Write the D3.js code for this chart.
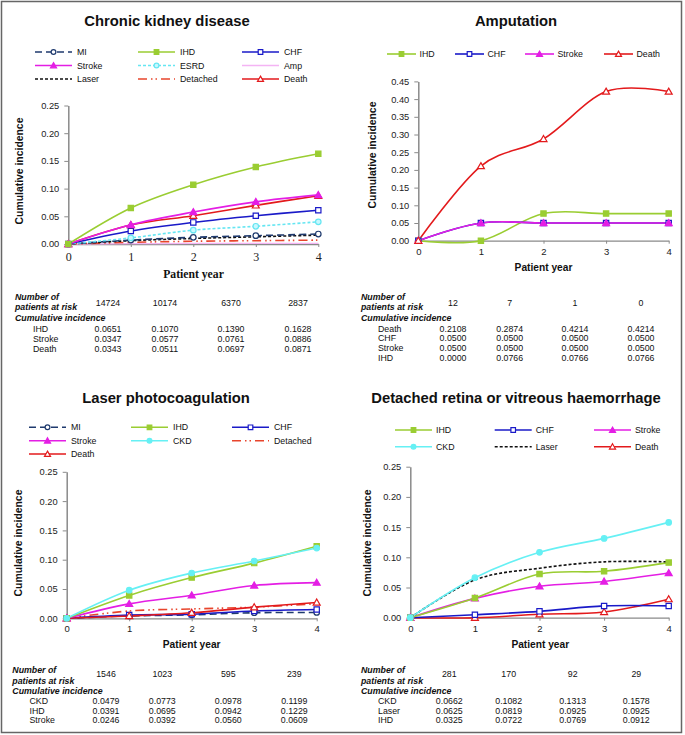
<!DOCTYPE html>
<html><head><meta charset="utf-8">
<script src="https://cdn.jsdelivr.net/npm/d3@7"></script>
<style>body{margin:0;background:#fff}svg{display:block}</style>
</head><body>
<svg id="c" width="685" height="735"></svg>
<script>
// ---------- DATA ----------
const years = [0, 1, 2, 3, 4];
const xTickLabels = ["0", "1", "2", "3", "4"];
const yTicks25 = [0, 0.05, 0.10, 0.15, 0.20, 0.25];
const yTicks45 = [0, 0.05, 0.10, 0.15, 0.20, 0.25, 0.30, 0.35, 0.40, 0.45];

// Panel 1: Chronic kidney disease
const ckdMI       = [0, 0.007, 0.012, 0.015, 0.018];
const ckdIHD      = [0, 0.0651, 0.1070, 0.1390, 0.1628];
const ckdCHF      = [0, 0.0235, 0.039, 0.051, 0.061];
const ckdStroke   = [0, 0.0347, 0.0577, 0.0761, 0.0886];
const ckdESRD     = [0, 0.011, 0.025, 0.032, 0.040];
const ckdAmp      = [0, 0.0005, 0.001, 0.001, 0.001];
const ckdLaser    = [0, 0.006, 0.010, 0.013, 0.016];
const ckdDetached = [0, 0.003, 0.005, 0.006, 0.007];
const ckdDeath    = [0, 0.0343, 0.0511, 0.0697, 0.0871];
const ckdAtRisk   = ["14724", "10174", "6370", "2837"];

// Panel 2: Amputation
const ampIHD    = [0, 0.0000, 0.0766, 0.0766, 0.0766];
const ampCHF    = [0, 0.0500, 0.0500, 0.0500, 0.0500];
const ampStroke = [0, 0.0500, 0.0500, 0.0500, 0.0500];
const ampDeath  = [0, 0.2108, 0.2874, 0.4214, 0.4214];
const ampAtRisk = ["12", "7", "1", "0"];

// Panel 3: Laser photocoagulation
const lasMI       = [0, 0.004, 0.006, 0.0095, 0.010];
const lasIHD      = [0, 0.0391, 0.0695, 0.0942, 0.1229];
const lasCHF      = [0, 0.0055, 0.007, 0.0125, 0.015];
const lasStroke   = [0, 0.0246, 0.0392, 0.0560, 0.0609];
const lasCKD      = [0, 0.0479, 0.0773, 0.0978, 0.1199];
const lasDetached = [0, 0.0125, 0.016, 0.019, 0.025];
const lasDeath    = [0, 0.004, 0.0095, 0.019, 0.027];
const lasAtRisk   = ["1546", "1023", "595", "239"];

// Panel 4: Detached retina or vitreous haemorrhage
const detIHD    = [0, 0.0325, 0.0722, 0.0769, 0.0912];
const detCHF    = [0, 0.005, 0.0105, 0.0195, 0.0195];
const detStroke = [0, 0.032, 0.052, 0.060, 0.074];
const detCKD    = [0, 0.0662, 0.1082, 0.1313, 0.1578];
const detLaser  = [0, 0.0625, 0.0819, 0.0925, 0.0925];
const detDeath  = [0, 0.000, 0.0057, 0.0095, 0.0307];
const detAtRisk = ["281", "170", "92", "29"];

// ---------- STYLES ----------
const styles = {
  MI:       {color: "#1F3A6E", dash: "7,4", marker: "circle", fill: "#ffffff"},
  IHD:      {color: "#9ACD32", dash: null, marker: "square", fill: "#9ACD32"},
  CHF:      {color: "#1A1AC8", dash: null, marker: "square", fill: "#ffffff"},
  Stroke:   {color: "#E41EE4", dash: null, marker: "triangle", fill: "#E41EE4"},
  ESRD:     {color: "#66E6F2", dash: "3,2", marker: "circle", fill: "#C8F8FF"},
  Amp:      {color: "#F4B4F4", dash: null, marker: null},
  Laser:    {color: "#111111", dash: "3,2", marker: null},
  Detached: {color: "#E8452C", dash: "9,4,1.5,3,1.5,4", marker: null},
  Death:    {color: "#E31A1C", dash: null, marker: "triangle", fill: "#ffffff"},
  CKD:      {color: "#66F0F4", dash: null, marker: "circle", fill: "#66F0F4"}
};

const SANS = "Arial, 'Liberation Sans', sans-serif";
const SERIF = "'Times New Roman', 'Liberation Serif', serif";
const fmt4 = d3.format(".4f");

const panels = [
  {
    title: "Chronic kidney disease", titleX: 167, titleY: 21,
    x: [68.3, 318.3], y: [244, 105.5], ymax: 0.25, yTicks: yTicks25,
    xTickFont: SERIF, xTickSize: 12, xTickY: 257,
    xTitleFont: SERIF, xTitleSize: 11.7, xTitleX: 193.5, xTitleY: 274,
    yTitleX: 19, yTitleY: 171,
    series: [["Amp", ckdAmp], ["Detached", ckdDetached], ["Laser", ckdLaser], ["MI", ckdMI],
             ["ESRD", ckdESRD], ["CHF", ckdCHF], ["Death", ckdDeath], ["Stroke", ckdStroke], ["IHD", ckdIHD]],
    legend: {items: ["MI","IHD","CHF","Stroke","ESRD","Amp","Laser","Detached","Death"],
             cols: [35, 138, 242], rows: [52, 65.5, 79], len: 37, gap: 5, ncol: 3},
    table: {headerX: 15, labelX: 33, cols: [108, 165, 231, 298],
            n1: 296.7, n2: 306.7, nv: 303.3, cum: 318, row0: 328.7, step: 10,
            atRisk: ckdAtRisk, rows: [["IHD", ckdIHD], ["Stroke", ckdStroke], ["Death", ckdDeath]]}
  },
  {
    title: "Amputation", titleX: 516, titleY: 21,
    x: [418.3, 668.7], y: [240.7, 81.4], ymax: 0.45, yTicks: yTicks45,
    xTickFont: SANS, xTickSize: 9.5, xTickY: 251,
    xTitleFont: SANS, xTitleSize: 10.2, xTitleX: 543.5, xTitleY: 267,
    yTitleX: 372, yTitleY: 155,
    series: [["IHD", ampIHD], ["CHF", ampCHF], ["Stroke", ampStroke], ["Death", ampDeath]],
    legend: {items: ["IHD","CHF","Stroke","Death"],
             cols: [387, 455, 525, 604], rows: [54], len: 29, gap: 3.5, ncol: 4},
    table: {headerX: 361, labelX: 378, cols: [453, 509.7, 575, 641],
            n1: 296.7, n2: 306.7, nv: 303.3, cum: 318, row0: 328.7, step: 9.7,
            atRisk: ampAtRisk, rows: [["Death", ampDeath], ["CHF", ampCHF], ["Stroke", ampStroke], ["IHD", ampIHD]]}
  },
  {
    title: "Laser photocoagulation", titleX: 166, titleY: 397.5,
    x: [66.7, 316.7], y: [618.3, 471.8], ymax: 0.25, yTicks: yTicks25,
    xTickFont: SANS, xTickSize: 9.5, xTickY: 628.5,
    xTitleFont: SANS, xTitleSize: 10.2, xTitleX: 191.7, xTitleY: 644,
    yTitleX: 18, yTitleY: 543,
    series: [["Detached", lasDetached], ["MI", lasMI], ["CHF", lasCHF], ["Death", lasDeath],
             ["Stroke", lasStroke], ["IHD", lasIHD], ["CKD", lasCKD]],
    legend: {items: ["MI","IHD","CHF","Stroke","CKD","Detached","Death"],
             cols: [29, 131, 232], rows: [427.3, 440.7, 454], len: 37, gap: 5, ncol: 3},
    table: {headerX: 12.3, labelX: 29.5, cols: [106, 162.3, 228.3, 294.3],
            n1: 670, n2: 680.7, nv: 674.3, cum: 690.7, row0: 700.7, step: 9.8,
            atRisk: lasAtRisk, rows: [["CKD", lasCKD], ["IHD", lasIHD], ["Stroke", lasStroke]]}
  },
  {
    title: "Detached retina or vitreous haemorrhage", titleX: 516, titleY: 397.5,
    x: [410.3, 668.7], y: [617.7, 466.7], ymax: 0.25, yTicks: yTicks25,
    xTickFont: SANS, xTickSize: 9.5, xTickY: 628.5,
    xTitleFont: SANS, xTitleSize: 10.2, xTitleX: 540.3, xTitleY: 644,
    yTitleX: 367, yTitleY: 543,
    series: [["Death", detDeath], ["CHF", detCHF], ["Stroke", detStroke], ["IHD", detIHD],
             ["Laser", detLaser], ["CKD", detCKD]],
    legend: {items: ["IHD","CHF","Stroke","CKD","Laser","Death"],
             cols: [395, 494.7, 594], rows: [430, 446.7], len: 37, gap: 4, ncol: 3},
    table: {headerX: 361, labelX: 378, cols: [449.3, 508.7, 572.7, 636.3],
            n1: 670, n2: 680.7, nv: 674.3, cum: 690.7, row0: 700.7, step: 9.8,
            atRisk: detAtRisk, rows: [["CKD", detCKD], ["Laser", detLaser], ["IHD", detIHD]]}
  }
];

const svg = d3.select("#c");
svg.append("rect").attr("x", 1.5).attr("y", 1.5).attr("width", 680).attr("height", 731)
  .attr("fill", "#fff").attr("stroke", "#666").attr("stroke-width", 1.5);

function drawMarker(g, type, cx, cy, st, scale) {
  if (!type) return;
  const s = scale || 1;
  let sym, size;
  if (type === "square") { sym = d3.symbolSquare; size = 28 * s; }
  else if (type === "triangle") { sym = d3.symbolTriangle; size = 21 * s; }
  else { sym = d3.symbolCircle; size = 24 * s; }
  g.append("path")
    .attr("d", d3.symbol().type(sym).size(size)())
    .attr("transform", `translate(${cx},${cy + (type === "triangle" ? 0.6 : 0)})`)
    .attr("fill", st.fill).attr("stroke", st.color).attr("stroke-width", 1.2);
}

panels.forEach(p => {
  const g = svg.append("g");
  const xs = d3.scaleLinear().domain([0, 4]).range(p.x);
  const ys = d3.scaleLinear().domain([0, p.ymax]).range(p.y);

  // Title
  g.append("text").attr("x", p.titleX).attr("y", p.titleY).attr("dy", "0.35em")
    .attr("text-anchor", "middle").attr("font-family", SANS).attr("font-weight", "bold")
    .attr("font-size", 14.8).attr("fill", "#111").text(p.title);

  // Y axis
  const ya = g.append("g").attr("transform", `translate(${p.x[0]},0)`)
    .call(d3.axisLeft(ys).tickValues(p.yTicks).tickFormat(d3.format(".2f")).tickSize(4).tickSizeOuter(0).tickPadding(5));
  ya.select(".domain").attr("stroke", "#8a8a8a").attr("stroke-width", 1.5);
  ya.selectAll(".tick line").attr("stroke", "#8a8a8a").attr("stroke-width", 1);
  ya.selectAll(".tick text").attr("font-family", SANS).attr("font-size", 9.3).attr("fill", "#222");

  // X axis
  const xa = g.append("g").attr("transform", `translate(0,${p.y[0]})`)
    .call(d3.axisBottom(xs).tickValues(years).tickFormat((d, i) => xTickLabels[i]).tickSize(3).tickSizeOuter(0));
  xa.select(".domain").attr("stroke", "#8a8a8a").attr("stroke-width", 1.3);
  xa.selectAll(".tick line").attr("stroke", "#8a8a8a");
  xa.selectAll(".tick text").attr("y", null).attr("dy", null)
    .attr("transform", `translate(0,${p.xTickY - p.y[0]})`).attr("dominant-baseline", "central")
    .attr("font-family", p.xTickFont).attr("font-size", p.xTickSize).attr("fill", "#222");

  // Axis titles
  g.append("text").attr("x", p.xTitleX).attr("y", p.xTitleY).attr("dy", "0.35em")
    .attr("text-anchor", "middle").attr("font-family", p.xTitleFont).attr("font-weight", "bold")
    .attr("font-size", p.xTitleSize).attr("fill", "#111").text("Patient year");
  g.append("text").attr("transform", `translate(${p.yTitleX},${p.yTitleY}) rotate(-90)`)
    .attr("dy", "0.35em").attr("text-anchor", "middle").attr("font-family", SANS)
    .attr("font-weight", "bold").attr("font-size", 10.4).attr("fill", "#111").text("Cumulative incidence");

  // Lines
  const line = d3.line().x((d, i) => xs(years[i])).y(d => ys(d)).curve(d3.curveCardinal.tension(0));
  p.series.forEach(([name, vals]) => {
    const st = styles[name];
    g.append("path").attr("d", line(vals)).attr("fill", "none")
      .attr("stroke", st.color).attr("stroke-width", name === "Amp" ? 1.3 : 1.6)
      .attr("stroke-dasharray", st.dash);
  });
  p.series.forEach(([name, vals]) => {
    const st = styles[name];
    vals.forEach((v, i) => drawMarker(g, st.marker, xs(years[i]), ys(v), st, 1));
  });

  // Legend
  const L = p.legend;
  L.items.forEach((name, i) => {
    const st = styles[name];
    const cx = L.cols[i % L.ncol], cy = L.rows[Math.floor(i / L.ncol)];
    g.append("line").attr("x1", cx).attr("x2", cx + L.len).attr("y1", cy).attr("y2", cy)
      .attr("stroke", st.color).attr("stroke-width", 1.6).attr("stroke-dasharray", st.dash);
    drawMarker(g, st.marker, cx + L.len / 2, cy, st, 0.75);
    g.append("text").attr("x", cx + L.len + L.gap).attr("y", cy).attr("dy", "0.35em")
      .attr("font-family", SANS).attr("font-size", 8.8).attr("fill", "#111").text(name);
  });

  // Table
  const T = p.table;
  const hdr = (txt, y) => g.append("text").attr("x", T.headerX).attr("y", y).attr("dy", "0.35em")
    .attr("font-family", SANS).attr("font-style", "italic").attr("font-weight", "bold")
    .attr("font-size", 8.8).attr("fill", "#111").text(txt);
  hdr("Number of", T.n1);
  hdr("patients at risk", T.n2);
  hdr("Cumulative incidence", T.cum);
  T.atRisk.forEach((v, i) => g.append("text").attr("x", T.cols[i]).attr("y", T.nv).attr("dy", "0.35em")
    .attr("text-anchor", "middle").attr("font-family", SANS).attr("font-size", 8.8).attr("fill", "#111").text(v));
  T.rows.forEach(([name, vals], r) => {
    const y = T.row0 + r * T.step;
    g.append("text").attr("x", T.labelX).attr("y", y).attr("dy", "0.35em")
      .attr("font-family", SANS).attr("font-size", 8.8).attr("fill", "#111").text(name);
    vals.slice(1).forEach((v, i) => g.append("text").attr("x", T.cols[i]).attr("y", y).attr("dy", "0.35em")
      .attr("text-anchor", "middle").attr("font-family", SANS).attr("font-size", 8.8).attr("fill", "#111").text(fmt4(v)));
  });
});
</script>
</body></html>
